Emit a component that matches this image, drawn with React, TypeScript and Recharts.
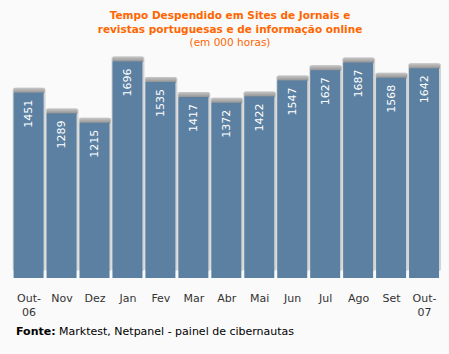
import React from "react";
import { BarChart, Bar, XAxis, YAxis, LabelList } from "recharts";

const months = ["Out-|06", "Nov", "Dez", "Jan", "Fev", "Mar", "Abr", "Mai", "Jun", "Jul", "Ago", "Set", "Out-|07"];
const hours = [1451, 1289, 1215, 1696, 1535, 1417, 1372, 1422, 1547, 1627, 1687, 1568, 1642];

const BAR_COLOR = "#5b80a2";
const FONT = "'DejaVu Sans', Verdana, sans-serif";

const data = months.map((m, i) => ({ month: m, value: hours[i] }));

const ShadowBar = (props: any) => {
  const { x, y, width, height } = props;
  return (
    <g>
      <rect x={x - 1} y={y - 5} width={width + 3} height={height - 2} rx={2} fill="#d4d4d4" />
      <rect x={x} y={y - 5} width={width + 1} height={6} rx={2} fill="url(#capGrad)" />
      <rect x={x} y={y} width={width} height={height} fill={BAR_COLOR} />
    </g>
  );
};

const ValueLabel = (props: any) => {
  const { x, y, width, value } = props;
  const cx = x + width / 2;
  const ty = y + 7;
  return (
    <text
      x={cx}
      y={ty}
      transform={`rotate(-90 ${cx} ${ty})`}
      textAnchor="end"
      dominantBaseline="central"
      fill="#ffffff"
      fontSize={11}
      fontFamily={FONT}
    >
      {value}
    </text>
  );
};

const MonthTick = (props: any) => {
  const { x, y, payload } = props;
  const lines = String(payload.value).split("|");
  return (
    <text x={x} y={y + 16} textAnchor="middle" fill="#333333" fontSize={11} fontFamily={FONT}>
      {lines.map((l, i) => (
        <tspan key={i} x={x} dy={i === 0 ? 0 : 14}>
          {l}
        </tspan>
      ))}
    </text>
  );
};

export default function App() {
  return (
    <div style={{ position: "absolute", left: 0, top: 0, width: 449, height: 354, background: "#fafafa", fontFamily: FONT }}>
      <div style={{ position: "absolute", left: 0, top: 9, width: 460, textAlign: "center", color: "#ff6600", fontSize: 10.5, lineHeight: "13.5px" }}>
        <div style={{ fontWeight: "bold" }}>Tempo Despendido em Sites de Jornais e</div>
        <div style={{ fontWeight: "bold" }}>revistas portuguesas e de informação online</div>
        <div>(em 000 horas)</div>
      </div>
      <BarChart
        width={449}
        height={354}
        data={data}
        margin={{ top: 54.5, right: 8, bottom: 0, left: 12.6 }}
        style={{ position: "absolute", left: 0, top: 0 }}
      >
        <defs>
          <linearGradient id="capGrad" x1="0" y1="0" x2="0" y2="1">
            <stop offset="0%" stopColor="#c8c8c8" />
            <stop offset="100%" stopColor="#8a8a8a" />
          </linearGradient>
        </defs>
        <XAxis dataKey="month" axisLine={false} tickLine={false} height={76} tick={<MonthTick />} interval={0} />
        <YAxis hide domain={[0, 1750]} />
        <Bar dataKey="value" barSize={30} shape={<ShadowBar />} isAnimationActive={false}>
          <LabelList dataKey="value" content={<ValueLabel />} />
        </Bar>
      </BarChart>
      <div style={{ position: "absolute", left: 16, top: 325, fontSize: 11, color: "#000" }}>
        <b>Fonte:</b> Marktest, Netpanel - painel de cibernautas
      </div>
    </div>
  );
}
